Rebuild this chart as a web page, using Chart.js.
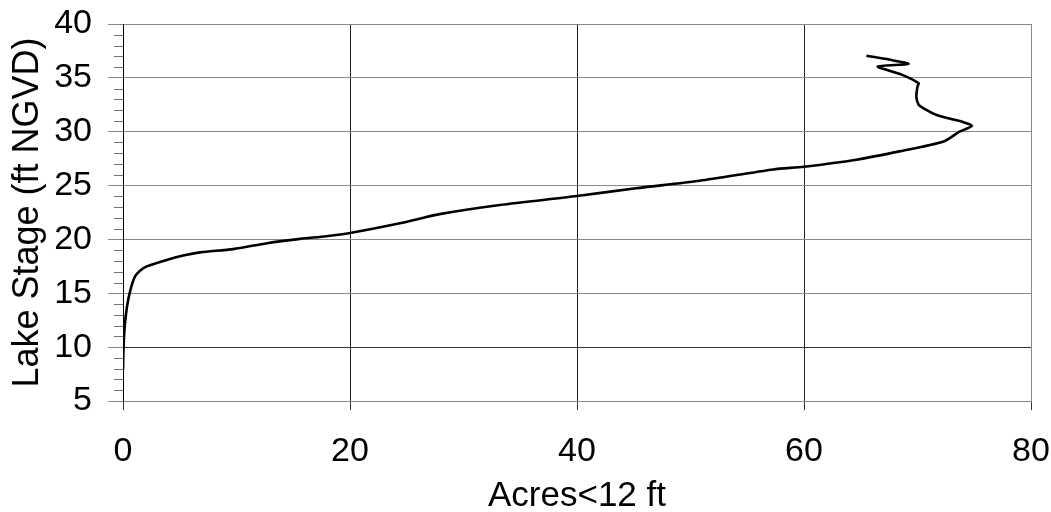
<!DOCTYPE html>
<html>
<head>
<meta charset="utf-8">
<script src="https://cdn.jsdelivr.net/npm/chart.js@4/dist/chart.umd.min.js"></script>
<style>
  html, body { margin: 0; padding: 0; background: #fff; }
  #c { display: block; }
</style>
</head>
<body>
<canvas id="c" width="1051" height="512"></canvas>
<script>
// ---- Data ----
const acres = [0.0, 0.05, 0.15, 0.35, 0.65, 1.05, 1.5, 2.1, 3.85, 5.3, 6.8, 9.7, 12.7, 15.6, 17.9, 20.0,
  24.4, 27.9, 33.2, 40.0, 45.2, 50.8, 57.3, 60.0, 64.6, 68.5, 72.3, 73.7, 74.8, 74.0, 72.9, 71.7, 70.5,
  70.1, 69.9, 70.0, 70.1, 68.6, 66.5, 69.2, 67.5, 65.5];
const stage = [7.9, 10.0, 11.9, 13.75, 15.3, 16.55, 17.1, 17.5, 18.1, 18.5, 18.8, 19.1, 19.65, 20.05, 20.3, 20.6,
  21.5, 22.35, 23.2, 24.03, 24.75, 25.45, 26.5, 26.75, 27.4, 28.2, 29.1, 30.0, 30.55, 30.9, 31.2, 31.55, 32.2,
  32.5, 33.25, 34.2, 34.5, 35.3, 36.05, 36.3, 36.7, 37.05];
const xTicks = [0, 20, 40, 60, 80];
const yTicks = [5, 10, 15, 20, 25, 30, 35, 40];
const xTitle = 'Acres<12 ft';
const yTitle = 'Lake Stage (ft NGVD)';

const points = acres.map((a, i) => ({ x: a, y: stage[i] }));
const FONT = "'Liberation Sans', Arial, sans-serif";

const minorTicks = {
  id: 'minorTicks',
  afterDraw(chart) {
    const ys = chart.scales.y;
    const ctx = chart.ctx;
    const left = chart.chartArea.left;
    ctx.save();
    ctx.strokeStyle = '#777';
    ctx.lineWidth = 1;
    for (let v = yTicks[0]; v <= yTicks[yTicks.length - 1]; v++) {
      if (v % 5 === 0) continue;
      const py = Math.round(ys.getPixelForValue(v)) + 0.5;
      ctx.beginPath();
      ctx.moveTo(left - 9, py);
      ctx.lineTo(left, py);
      ctx.stroke();
    }
    ctx.restore();
  }
};

new Chart(document.getElementById('c'), {
  type: 'scatter',
  data: {
    datasets: [{
      data: points,
      showLine: true,
      borderColor: '#000',
      borderWidth: 2.6,
      pointRadius: 0,
      tension: 0.25,
      fill: false
    }]
  },
  options: {
    responsive: false,
    animation: false,
    layout: { padding: { left: 0, top: 24, right: 20, bottom: 0 } },
    plugins: { legend: { display: false }, tooltip: { enabled: false } },
    scales: {
      x: {
        type: 'linear',
        min: xTicks[0], max: xTicks[xTicks.length - 1],
        afterBuildTicks: s => { s.ticks = xTicks.map(v => ({ value: v })); },
        afterFit: s => { s.height = 111; s.paddingLeft = 0; s.paddingRight = 0; },
        ticks: { color: '#000', font: { family: FONT, size: 34 }, padding: 21, maxRotation: 0 },
        grid: {
          color: c => (c.tick && c.tick.value === 80) ? '#888' : '#222',
          tickColor: '#333',
          tickLength: 9,
          lineWidth: 1
        },
        border: { color: '#888', width: 1 },
        title: { display: true, text: xTitle, color: '#000', font: { family: FONT, size: 35, lineHeight: 1 }, padding: { top: 0, bottom: -2 } }
      },
      y: {
        type: 'linear',
        min: yTicks[0], max: yTicks[yTicks.length - 1],
        afterBuildTicks: s => { s.ticks = yTicks.map(v => ({ value: v })); },
        afterFit: s => { s.width = 123; s.paddingTop = 0; s.paddingBottom = 0; },
        ticks: { color: '#000', font: { family: FONT, size: 34 }, padding: 16 },
        grid: {
          color: c => (c.tick && c.tick.value === 10) ? '#333' : '#8a8a8a',
          tickColor: '#888',
          tickLength: 15,
          lineWidth: 1
        },
        border: { color: '#000', width: 1 },
        title: { display: true, text: yTitle, color: '#000', font: { family: FONT, size: 36 }, padding: { top: 6, bottom: 0 } }
      }
    }
  },
  plugins: [minorTicks]
});
</script>
</body>
</html>
